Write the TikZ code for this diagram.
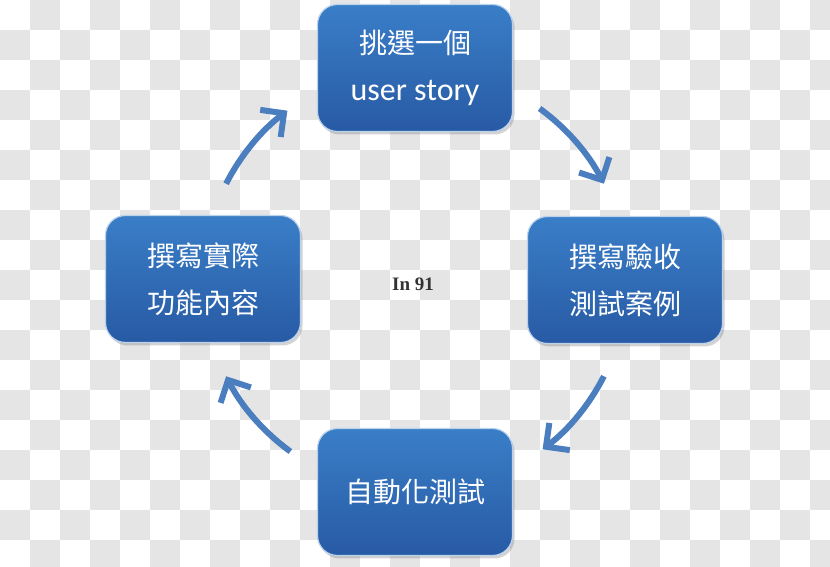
\documentclass[tikz,border=0pt]{standalone}
\usepackage{fontspec}
\setmainfont{Carlito}
\newfontfamily\cjk{Noto Sans CJK TC}
\newfontfamily\lbl{Liberation Serif}
\usetikzlibrary{arrows.meta,shadows}
\definecolor{boxtop}{RGB}{58,126,200}
\definecolor{boxbot}{RGB}{40,90,164}
\definecolor{arrowblue}{RGB}{74,126,191}
\definecolor{checker}{RGB}{229,229,229}

\begin{document}
\begin{tikzpicture}[x=1pt,y=1pt,
    taskbox/.style={rounded corners=20pt, minimum width=195pt, minimum height=127pt,
      top color=boxtop, bottom color=boxbot, draw=white!65!boxtop, line width=1.2pt,
      drop shadow={shadow xshift=2pt,shadow yshift=-3pt,opacity=0.35},
      text=white, align=center, font=\fontsize{28}{47}\selectfont},
    flow/.style={line width=6pt, draw=arrowblue, -{Straight Barb[length=17pt,width=34pt]}}]
    \useasboundingbox (0,0) rectangle (830,567);
    \clip (0,0) rectangle (830,567);
    % background
    \foreach \i in {0,...,27}
      \foreach \j in {0,...,18}{
        \pgfmathtruncatemacro\odd{mod(\i+\j,2)}
        \ifnum\odd=1 \fill[checker] (30*\i,537-30*\j) rectangle ++(30,30); \fi
      }
    \coordinate (cen) at (415,287);
    \node[taskbox] (pick) at (415,499) {{\cjk 挑選一個}\\{\fontsize{32}{47}\selectfont user story}};
    \node[taskbox] (accept) at (625,287) {\cjk 撰寫驗收\\\cjk 測試案例};
    \node[taskbox] (auto) at (415,75) {\cjk 自動化測試};
    \node[taskbox] (impl) at (203,288) {\cjk 撰寫實際\\\cjk 功能內容};
    \node[text=black!80, font=\lbl\bfseries\fontsize{19}{21}\selectfont] (tag) at (413,283) {In 91};
    % cycle arrows
    \draw[flow] ([shift={(153:212)}]cen) arc[start angle=153, end angle=127, radius=212];
    \draw[flow] ([shift={(54:212)}]cen) arc[start angle=54, end angle=27, radius=212];
    \draw[flow] ([shift={(-27:212)}]cen) arc[start angle=-27, end angle=-53, radius=212];
    \draw[flow] ([shift={(-126:212)}]cen) arc[start angle=-126, end angle=-153, radius=212];
\end{tikzpicture}
\end{document}
